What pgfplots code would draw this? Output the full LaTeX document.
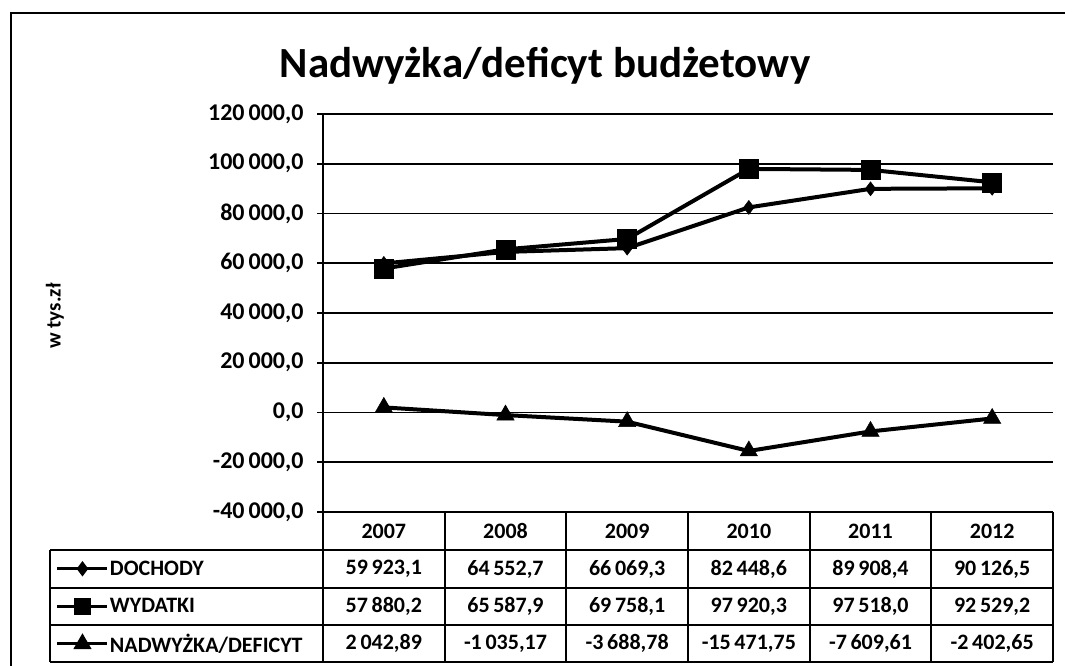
\documentclass[border=0pt]{standalone}
\usepackage{pgfplots}
\pgfplotsset{compat=1.18}
\usepackage{pgfplotstable}
\usepackage{fontspec}
\setmainfont{Carlito}

\pgfplotstableread{
x dochody wydatki saldo
0 59923.1 57880.2 2042.89
1 64552.7 65587.9 -1035.17
2 66069.3 69758.1 -3688.78
3 82448.6 97920.3 -15471.75
4 89908.4 97518.0 -7609.61
5 90126.5 92529.2 -2402.65
}\budzet

\newcommand{\tabfont}{\bfseries\fontsize{22bp}{24bp}\selectfont}

\begin{document}
\begin{tikzpicture}[x=1bp,y=1bp]
\useasboundingbox (0,0) rectangle (1065,666);
\draw[line width=2.5bp] (11,-5) -- (11,653) -- (1075,653);
\node[font=\bfseries\fontsize{43bp}{46bp}\selectfont, anchor=base] at (545,588) {Nadwyżka/deficyt budżetowy};
\node[font=\bfseries\fontsize{21bp}{24bp}\selectfont, rotate=90] at (55,350) {w tys.zł};

\begin{axis}[
  at={(323bp,154bp)}, anchor=south west,
  scale only axis, width=730bp, height=398bp,
  xmin=-0.5, xmax=5.5, ymin=-40000, ymax=120000,
  ytick distance=20000, xtick=\empty,
  axis x line=none, axis y line*=left,
  y axis line style={line width=2bp, -},
  ymajorgrids, grid style={black, line width=1.6bp},
  tick align=outside, major tick length=6bp,
  ytick style={black, line width=1.6bp},
  scaled y ticks=false,
  /pgf/number format/assume math mode=true,
  yticklabel style={font=\bfseries\fontsize{24bp}{26bp}\selectfont, xshift=-10bp,
    /pgf/number format/.cd, fixed, fixed zerofill, precision=1, use comma, 1000 sep={\,}},
  clip=false,
  legend style={at={(-0.3658,-0.0955)}, anchor=north west, draw=none, fill=none,
    inner sep=0pt, outer sep=0pt, row sep=0pt,
    font=\tabfont,
    nodes={minimum height=37.5bp, inner sep=1bp}},
  legend cell align=left,
  legend image code/.code={\draw[#1, line width=3bp, mark options={scale=0.75}, mark repeat=2, mark phase=2] plot coordinates {(0bp,0bp) (25bp,0bp) (50bp,0bp)};},
]
\addplot[black, line width=4bp, mark=diamond*, mark size=7bp, mark options={solid, fill=black, line width=0.5bp}] table[x=x,y=dochody]{\budzet};
\addlegendentry{DOCHODY}
\addplot[black, line width=4bp, mark=square*, mark size=9.5bp, mark options={solid, fill=black, line width=0.5bp}] table[x=x,y=wydatki]{\budzet};
\addlegendentry{WYDATKI}
\addplot[black, line width=4bp, mark=triangle*, mark size=10bp, mark options={solid, fill=black, line width=0.5bp}] table[x=x,y=saldo]{\budzet};
\addlegendentry{NADWYŻKA/DEFICYT}
\end{axis}

% data table
\begin{scope}[line width=2bp]
\draw (323,154) -- (1053,154);
\foreach \yy in {116,78,41,4} \draw (50,\yy) -- (1053,\yy);
\draw (50,116) -- (50,4);
\foreach \k in {0,...,6} \draw ({323+121.667*\k},154) -- ({323+121.667*\k},4);
\end{scope}
\foreach \lab [count=\i from 0] in {2007,2008,2009,2010,2011,2012}
  \node[font=\tabfont] at ({323+121.667*(\i+0.5)},135) {\lab};
\foreach \lab [count=\i from 0] in {{59\,923,1},{64\,552,7},{66\,069,3},{82\,448,6},{89\,908,4},{90\,126,5}}
  \node[font=\tabfont] at ({323+121.667*(\i+0.5)},97) {\lab};
\foreach \lab [count=\i from 0] in {{57\,880,2},{65\,587,9},{69\,758,1},{97\,920,3},{97\,518,0},{92\,529,2}}
  \node[font=\tabfont] at ({323+121.667*(\i+0.5)},59.5) {\lab};
\foreach \lab [count=\i from 0] in {{2\,042,89},{-1\,035,17},{-3\,688,78},{-15\,471,75},{-7\,609,61},{-2\,402,65}}
  \node[font=\tabfont] at ({323+121.667*(\i+0.5)},22.5) {\lab};
\end{tikzpicture}
\end{document}
